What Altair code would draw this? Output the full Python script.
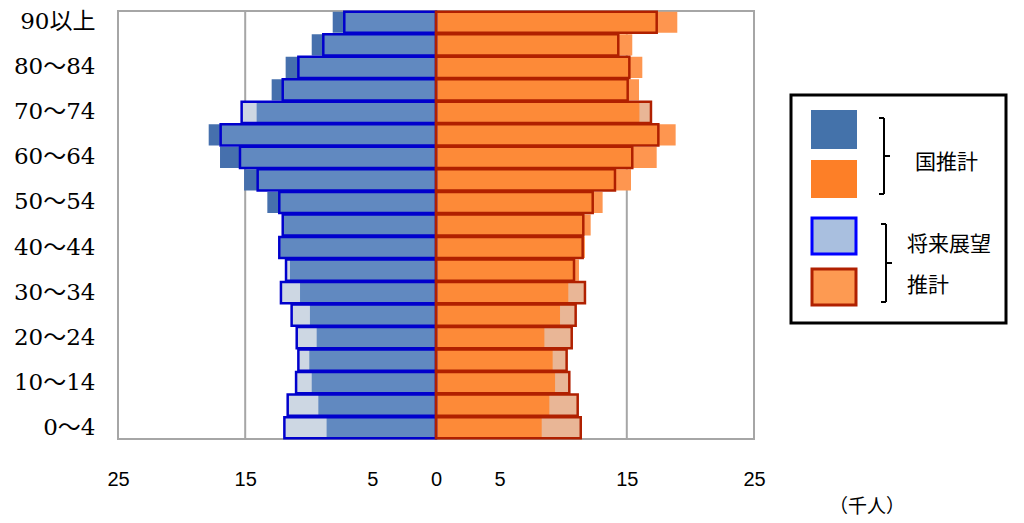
import altair as alt
import pandas as pd

# Age groups, bottom to top
ages = ["0～4", "5～9", "10～14", "15～19", "20～24", "25～29", "30～34", "35～39",
        "40～44", "45～49", "50～54", "55～59", "60～64", "65～69", "70～74",
        "75～79", "80～84", "85～89", "90以上"]

# Left side (blue): national estimate / future outlook estimate (thousand persons)
left_nat = [8.6, 9.25, 9.77, 9.96, 9.38, 9.91, 10.69, 11.48, 12.25, 12.0, 13.26,
            15.09, 16.98, 17.87, 14.1, 12.92, 11.82, 9.77, 8.12]
left_out = [11.92, 11.66, 11.0, 10.82, 10.95, 11.35, 12.19, 11.79, 12.32, 12.05, 12.32,
            14.02, 15.41, 16.93, 15.28, 12.05, 10.82, 8.86, 7.21]

# Right side (orange)
right_nat = [8.31, 8.91, 9.36, 9.17, 8.52, 9.75, 10.4, 11.24, 11.71, 12.16, 13.1,
             15.33, 17.35, 18.84, 15.99, 15.96, 16.22, 15.43, 18.97]
right_out = [11.38, 11.14, 10.48, 10.27, 10.67, 10.98, 11.71, 10.85, 11.53, 11.58, 12.32,
             14.07, 15.43, 17.48, 16.9, 15.07, 15.2, 14.33, 17.35]

x_ticks = [-25, -15, -5, 0, 5, 15, 25]
grid_vals = [-15, 15]
shown_labels = ["0～4", "10～14", "20～24", "30～34", "40～44", "50～54",
                "60～64", "70～74", "80～84", "90以上"]

rows = []
for side, sign, nat, out in [("L", -1, left_nat, left_out), ("R", 1, right_nat, right_out)]:
    for a, n, o in zip(ages, nat, out):
        rows.append(dict(age=a, side=side, nat=sign * n, out=sign * o,
                         ovl=sign * min(n, o), zero=0))
df = pd.DataFrame(rows)

ages_desc = list(reversed(ages))
xscale = alt.Scale(domain=[-25, 25], nice=False, zero=False)
yscale = alt.Scale(paddingInner=0.06, paddingOuter=0.03)
xaxis = alt.Axis(values=x_ticks, labelExpr="abs(datum.value)", title=None, grid=False,
                 ticks=False, domain=False, labelPadding=30, labelOverlap=False,
                 labelFlush=False,
                 labelFont="Liberation Sans Narrow, Liberation Sans", labelFontSize=20,
                 labelColor="black")
yaxis = alt.Axis(values=shown_labels, title=None, ticks=False, domain=False, grid=False,
                 labelFont="DejaVu Serif, Noto Sans CJK JP", labelFontSize=23,
                 labelColor="black",
                 labelPadding=23, minExtent=110, maxExtent=110, labelLimit=200)


def bar_layer(field, side, **mk):
    return alt.Chart(df).transform_filter(alt.datum.side == side).mark_bar(**mk).encode(
        x=alt.X(f"{field}:Q", scale=xscale, axis=xaxis),
        x2="zero:Q",
        y=alt.Y("age:N", sort=ages_desc, scale=yscale, axis=yaxis),
    )


grid = alt.Chart(pd.DataFrame({"g": grid_vals})).mark_rule(
    color="#a6a6a6", strokeWidth=2).encode(x=alt.X("g:Q", scale=xscale, axis=xaxis))

layers = [grid]
styles = {
    "L": dict(nat="#4670ad", out="#cdd7e3", ovl="#6189c0", line="#0000cc"),
    "R": dict(nat="#fe9650", out="#e9b696", ovl="#fd8a38", line="#b02000"),
}
for side in ["L", "R"]:
    s = styles[side]
    layers.append(bar_layer("nat", side, color=s["nat"], strokeWidth=0))
    layers.append(bar_layer("out", side, color=s["out"], strokeWidth=0))
    layers.append(bar_layer("ovl", side, color=s["ovl"], strokeWidth=0))
for side in ["L", "R"]:
    s = styles[side]
    layers.append(bar_layer("out", side, fillOpacity=0, stroke=s["line"], strokeWidth=2.5))

# Legend (drawn beside the plot area)
leg = pd.DataFrame({"k": [0]})


def rect(x1, x2, y1, y2, **mk):
    return alt.Chart(leg).mark_rect(**mk).encode(
        x=alt.value(x1), x2=alt.value(x2), y=alt.value(y1), y2=alt.value(y2))


def rule(x1, x2, y1, y2):
    return alt.Chart(leg).mark_rule(color="black", strokeWidth=2).encode(
        x=alt.value(x1), x2=alt.value(x2), y=alt.value(y1), y2=alt.value(y2))


def text(x, y, t, **mk):
    return alt.Chart(leg).mark_text(align="left", baseline="middle", color="black", **mk).encode(
        x=alt.value(x), y=alt.value(y), text=alt.value(t))


cjk = "Noto Sans CJK JP"
layers += [
    rect(673, 888, 84, 312, fill="white", stroke="black", strokeWidth=3),
    rect(693, 739, 99, 138, fill="#4472aa"),
    rect(693, 739, 149, 187, fill="#fd7f27"),
    rect(694, 738, 207, 243, fill="#a9bfdf", stroke="#0000ff", strokeWidth=3),
    rect(694, 738, 258, 294, fill="#fd9a52", stroke="#b02000", strokeWidth=3),
    rule(766, 766, 107, 183), rule(761, 766, 107, 107), rule(761, 766, 183, 183),
    rule(766, 772, 145, 145),
    rule(768, 768, 213, 291), rule(763, 768, 213, 213), rule(763, 768, 291, 291),
    rule(768, 774, 252, 252),
    text(797, 152, "国推計", font=cjk, fontSize=21),
    text(789, 234, "将来展望", font=cjk, fontSize=21),
    text(789, 275, "推計", font=cjk, fontSize=21),
    text(711, 496, "（千人）", font=cjk, fontSize=19),
]

chart = alt.layer(*layers).properties(
    width=636, height=428,
    padding={"left": 0, "top": 2, "right": 0, "bottom": 3},
).configure_view(stroke="#a6a6a6", strokeWidth=2)

chart.save("out.html", embed_options={"renderer": "svg", "actions": False})
